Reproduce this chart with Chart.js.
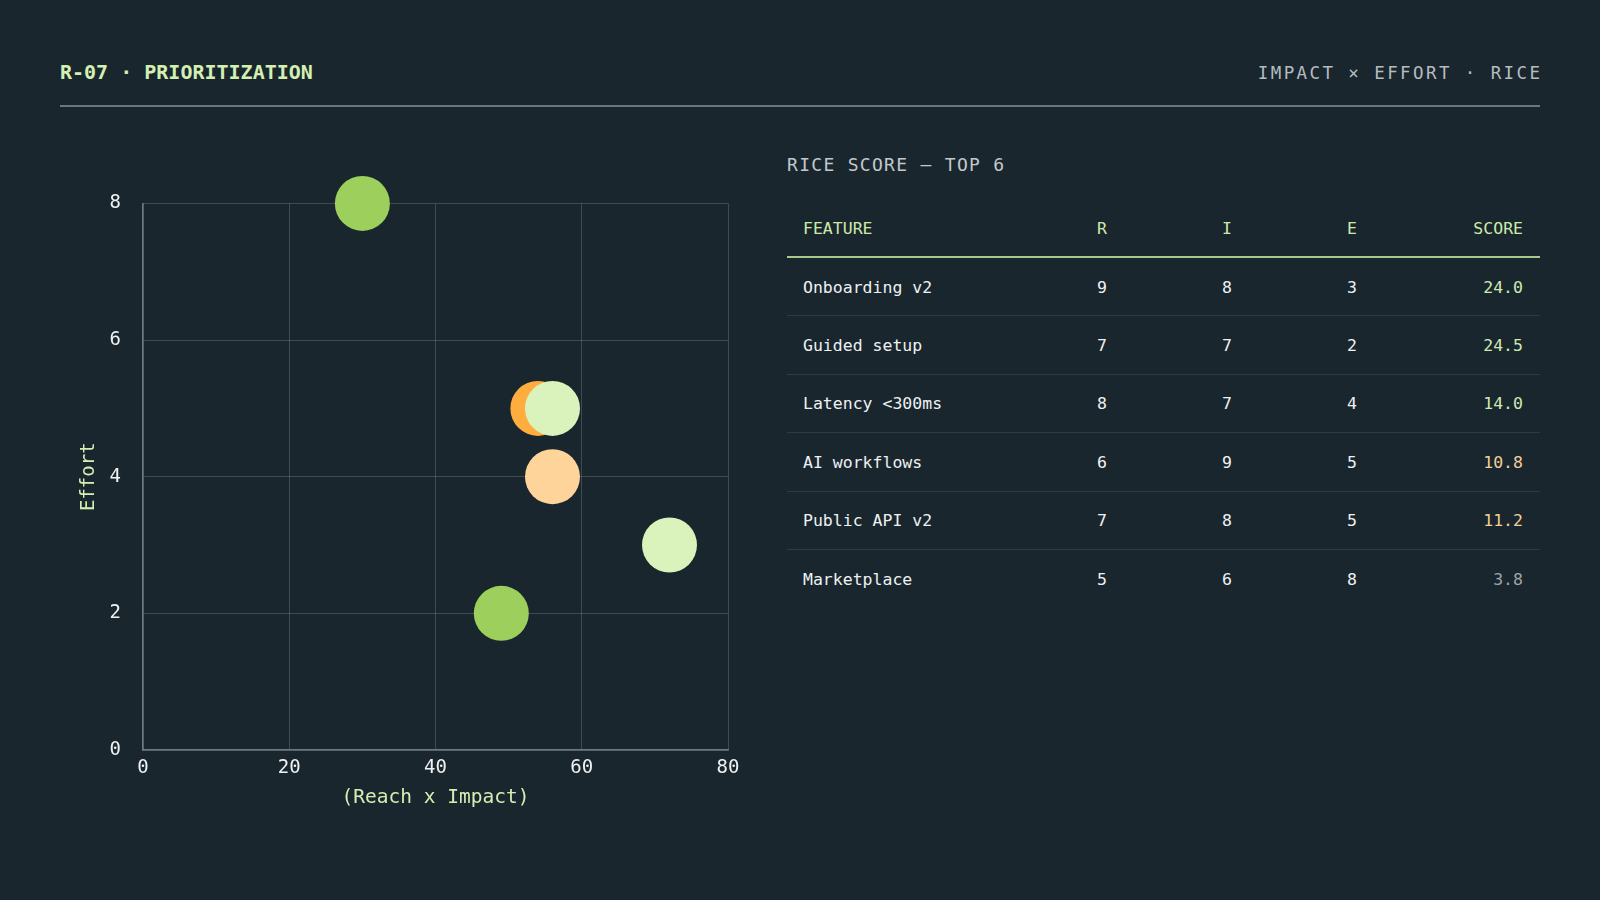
<!DOCTYPE html>
<html>
<head>
<meta charset="utf-8">
<script src="https://cdn.jsdelivr.net/npm/chart.js@4.4.1/dist/chart.umd.min.js"></script>
<style>
  html, body { margin:0; padding:0; }
  body { width:1600px; height:900px; background:#1a262e; position:relative; overflow:hidden;
         font-family:"DejaVu Sans Mono", "Liberation Mono", monospace; }
  #title { position:absolute; left:60px; top:60px; font-size:20px; font-weight:bold; color:#d3efb2; }
  #kicker { position:absolute; right:60px; top:63px; font-size:17.5px; letter-spacing:2.4px; color:#b5bcc0; margin-right:-2.4px; }
  #rule { position:absolute; left:60px; top:105px; width:1480px; height:2px; background:#6d7579; }
  #chartBox { position:absolute; left:60px; top:170px; width:700px; height:650px; }
  #sub { position:absolute; left:787px; top:154px; font-size:18px; letter-spacing:1.3px; color:#c2c8cb; }
  #table { position:absolute; left:787px; top:199px; width:753px; }
  .row { position:relative; box-sizing:border-box; height:58.4px; border-bottom:1px solid #2d3b43; }
  .row.head { border-bottom:2px solid #a9c98c; height:59px; }
  .row.last { border-bottom:none; }
  .cell { position:absolute; top:50%; transform:translateY(-50%); font-size:16.5px; color:#eef1f2; white-space:nowrap; }
  .head .cell { color:#cbeaa9; }
  .c0 { left:16px; }
  .c1 { left:315px; transform:translate(-50%,-50%); }
  .c2 { left:440px; transform:translate(-50%,-50%); }
  .c3 { left:565px; transform:translate(-50%,-50%); }
  .c4 { right:17px; }
</style>
</head>
<body>
<div id="title">R-07 · PRIORITIZATION</div>
<div id="kicker">IMPACT × EFFORT · RICE</div>
<div id="rule"></div>
<div id="chartBox"><canvas id="c"></canvas></div>
<div id="sub">RICE SCORE – TOP 6</div>
<div id="table"></div>
<script>
// ---- data ----
const features = ['Onboarding v2', 'Guided setup', 'Latency <300ms', 'AI workflows', 'Public API v2', 'Marketplace'];
const reach   = [9, 7, 8, 6, 7, 5];
const impact  = [8, 7, 7, 9, 8, 6];
const effort  = [3, 2, 4, 5, 5, 8];
const scores  = ['24.0', '24.5', '14.0', '10.8', '11.2', '3.8'];
const bubbleX = [72, 49, 56, 54, 56, 30];   // Reach x Impact
const bubbleY = [3, 2, 4, 5, 5, 8];         // Effort
const bubbleColors = ['#daf3bd', '#9ccf5c', '#ffd49b', '#ffad3e', '#daf3bd', '#9ccf5c'];
const scoreColors  = ['#cfe9b1', '#cfe9b1', '#cfe9b1', '#f1cf98', '#f1cf98', '#9ca5aa'];
const xTicks = [0, 20, 40, 60, 80];
const yTicks = [0, 2, 4, 6, 8];
const headers = ['FEATURE', 'R', 'I', 'E', 'SCORE'];

// ---- table ----
const table = document.getElementById('table');
function addRow(cells, cls, colors) {
  const r = document.createElement('div');
  r.className = 'row ' + (cls || '');
  cells.forEach((t, i) => {
    const d = document.createElement('div');
    d.className = 'cell c' + i;
    d.textContent = t;
    if (colors && colors[i]) d.style.color = colors[i];
    r.appendChild(d);
  });
  table.appendChild(r);
}
addRow(headers, 'head');
features.forEach((f, i) => {
  addRow([f, String(reach[i]), String(impact[i]), String(effort[i]), scores[i]],
         i === features.length - 1 ? 'last' : '', [null, null, null, null, scoreColors[i]]);
});

// ---- chart ----
const FONT = '"DejaVu Sans Mono", "Liberation Mono", monospace';
new Chart(document.getElementById('c'), {
  type: 'bubble',
  data: {
    datasets: [{
      data: bubbleX.map((x, i) => ({ x: x, y: bubbleY[i], r: 27.5 })),
      backgroundColor: bubbleColors,
      borderWidth: 0,
      hoverBorderWidth: 0,
      clip: false
    }]
  },
  options: {
    responsive: true,
    maintainAspectRatio: false,
    animation: false,
    events: [],
    layout: { padding: { top: 31, right: 32, left: 0, bottom: 0 } },
    plugins: { legend: { display: false }, tooltip: { enabled: false } },
    scales: {
      x: {
        type: 'linear', min: 0, max: 80,
        afterBuildTicks: s => { s.ticks = xTicks.map(v => ({ value: v })); },
        afterFit: s => { s.height = 70; },
        grid: { color: 'rgba(255,255,255,0.17)', lineWidth: 1, drawTicks: false },
        border: { color: '#6f7a80', width: 1.5 },
        ticks: { color: '#eef1f2', font: { family: FONT, size: 19 }, padding: 7, maxRotation: 0 },
        title: { display: true, text: '(Reach x Impact)', color: '#d3efb2',
                 font: { family: FONT, size: 19.5 }, padding: { bottom: 10 } }
      },
      y: {
        type: 'linear', min: 0, max: 8,
        afterBuildTicks: s => { s.ticks = yTicks.map(v => ({ value: v })); },
        afterFit: s => { s.width = 83; },
        grid: { color: 'rgba(255,255,255,0.17)', lineWidth: 1, drawTicks: false },
        border: { color: '#6f7a80', width: 1.5 },
        ticks: { color: '#eef1f2', font: { family: FONT, size: 19 }, padding: 22 },
        title: { display: true, text: 'Effort', color: '#d3efb2',
                 font: { family: FONT, size: 19 }, padding: { top: 18 } }
      }
    }
  }
});
</script>
</body>
</html>
